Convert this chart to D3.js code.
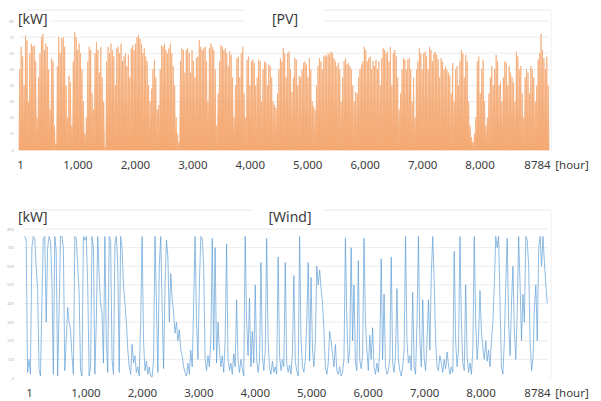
<!DOCTYPE html>
<html><head><meta charset="utf-8">
<script src="https://cdn.jsdelivr.net/npm/d3@7"></script>
<style>body{margin:0;background:#fff;} svg{display:block;}</style>
</head><body>
<svg id="c" width="601" height="401"></svg>
<script>
// ---------- DATA ----------
const xTickLabels = ["1","1,000","2,000","3,000","4,000","5,000","6,000","7,000","8,000","8784"];
const pvTicks = [0,10,20,30,40,50,60,70,80];
const windTicks = [0,100,200,300,400,500,600,700,800];
const hoursPerDay = 24;
const totalHours = 8784;

// PV: daily peak output [kW], day 1..366
const pvDailyPeak = [
50,64,58,40,71,68,30,60,66,64, 65,55,20,45,60,70,72,62,66,64,
50,25,57,55,15,4,52,70,60,69, 70,64,40,20,46,42,15,55,73,70,
62,66,60,50,30,10,20,55,64,62, 35,25,60,67,62,48,64,45,30,2,
55,64,60,66,62,58,40,63,64,60, 66,55,58,60,52,59,45,63,65,62,
66,70,71,69,66,60,63,58,55,40, 30,38,50,56,45,25,28,50,65,64,
66,62,60,63,66,60,52,40,20,10, 5,55,63,62,48,62,63,60,48,62,
55,45,57,58,68,64,62,63,64,55, 30,63,66,64,62,50,15,35,55,65,
64,62,63,60,52,61,59,45,20,40, 57,58,45,60,64,35,20,56,58,40,
55,56,54,40,45,56,55,30,50,55, 54,40,53,52,45,30,28,26,35,50,
57,55,63,60,45,60,61,50,36,45, 57,56,40,46,45,50,54,55,53,45,
57,50,30,27,25,40,52,57,55,50, 58,59,58,60,59,61,60,57,55,52,
54,50,30,45,55,57,53,54,52,50, 40,30,36,35,45,50,53,55,64,62,
55,57,58,50,55,52,56,50,55,40, 57,63,62,60,61,55,64,40,60,62,
58,45,25,35,50,57,56,50,56,57, 50,30,45,20,50,55,63,60,50,60,
61,58,50,64,62,55,60,61,59,56, 45,57,55,50,52,50,48,46,35,54,
30,50,52,40,55,62,60,45,59,55, 30,15,8,5,10,20,55,58,35,50,
56,30,15,20,35,45,52,40,50,59, 55,40,42,30,45,55,54,40,52,48,
45,42,30,61,58,50,52,35,20,45, 50,48,35,52,50,45,30,40,56,60,
72,62,57,50,58,40
];

// Wind: output sampled once a day [kW], day 1..366
const windDaily = [
760,740,30,100,20,700,760,750,600,480, 50,10,400,750,760,300,700,760,740,520,
20,760,680,10,350,760,760,700,40,200, 380,300,260,120,20,760,750,600,460,40,
10,760,740,760,500,10,60,760,700,20, 300,760,550,400,350,80,760,200,30,760,
740,100,20,720,760,600,30,760,700,500, 400,300,150,60,20,180,80,120,30,60,
10,300,760,200,40,90,20,60,10,5, 100,760,400,30,600,760,380,50,500,740,
650,300,560,420,350,240,300,200,260,150, 120,60,30,10,80,20,150,60,400,760,
300,100,500,760,750,600,100,40,120,60, 200,750,150,700,80,300,150,60,120,30,
200,720,100,40,80,20,130,60,420,90, 30,100,50,10,760,300,120,430,60,250,
80,500,100,30,90,620,120,40,150,750, 200,50,20,90,30,60,20,650,120,40,
100,60,620,80,30,70,20,140,550,90, 40,10,760,200,60,30,100,300,620,90,
540,150,60,200,600,500,580,480,400,250, 60,20,80,250,200,130,60,180,40,20,
60,10,30,100,750,300,80,150,700,200, 500,80,40,630,100,50,120,750,300,150,
40,230,100,270,60,20,80,30,150,640, 100,450,60,20,40,100,650,80,30,120,
480,100,40,10,60,150,760,200,80,120, 40,460,60,20,300,760,200,60,420,100,
40,200,420,150,560,760,520,200,60,40, 120,80,30,100,50,140,70,20,60,30,
680,200,60,150,760,300,80,40,500,120, 30,80,20,150,760,300,100,220,470,250,
160,100,200,90,150,60,200,300,500,760, 700,760,400,60,20,200,500,750,300,120,
400,600,250,100,350,760,500,200,450,300, 760,740,600,200,40,100,380,500,200,700,
760,600,760,620,500,400
];

// ---------- DRAW ----------
const svg = d3.select("#c");
const FONT = "'Noto Sans', sans-serif";
const TXT = "#3c3c3c";

function drawFrame(p) {
  const g = svg.append("g");
  g.selectAll("line.grid").data(p.ticks.slice(1)).join("line")
    .attr("x1", p.x.range()[0]).attr("x2", p.x.range()[1])
    .attr("y1", d => p.y(d)).attr("y2", d => p.y(d))
    .attr("stroke", "#ececec").attr("stroke-width", 1);
  g.append("line").attr("x1", p.frameLeft).attr("x2", p.frameRight)
    .attr("y1", p.frameTop).attr("y2", p.frameTop).attr("stroke", "#e8e8e8");
  g.append("line").attr("x1", p.frameRight).attr("x2", p.frameRight)
    .attr("y1", p.frameTop).attr("y2", p.y(0)).attr("stroke", "#eeeeee");
  g.selectAll("text.yt").data(p.ticks).join("text")
    .attr("x", 14).attr("y", d => p.y(d) + 1.5)
    .attr("text-anchor", "end").attr("font-size", 4).attr("font-family", FONT)
    .attr("fill", "#b8b8b8").text(d => d);
  return g;
}

function drawLabels(p) {
  svg.append("rect").attr("x", 14).attr("y", p.labelY - 11).attr("width", 36).attr("height", 16).attr("fill", "#fff");
  svg.append("rect").attr("x", p.titleBox[0]).attr("y", p.frameTop - 5).attr("width", p.titleBox[1] - p.titleBox[0]).attr("height", p.labelY - p.frameTop + 10).attr("fill", "#fff");
  svg.append("text").attr("x", p.kwX).attr("y", p.labelY).attr("font-family", FONT).attr("font-size", 14)
    .attr("fill", TXT).text("[kW]");
  svg.append("text").attr("x", p.titleX).attr("y", p.labelY).attr("text-anchor", "middle")
    .attr("font-family", FONT).attr("font-size", 14).attr("fill", TXT).text(p.title);
  const lab = d3.scalePoint().domain(xTickLabels).range(p.labelRange);
  const ax = svg.append("g").attr("transform", `translate(0,${p.axisY})`)
    .call(d3.axisBottom(lab).tickSize(0).tickPadding(0));
  ax.select(".domain").remove();
  ax.selectAll("text").attr("font-family", FONT).attr("font-size", 11.5).attr("fill", TXT);
  svg.append("text").attr("x", p.hourX).attr("y", p.axisY + 8.3).attr("text-anchor", "middle")
    .attr("font-family", FONT).attr("font-size", 11.5).attr("fill", TXT).text("[hour]");
}

// PV panel
const pv = {
  x: d3.scaleLinear().domain([0, totalHours]).range([19, 549]),
  y: d3.scaleLinear().domain([0, 80]).range([150, 21]),
  ticks: pvTicks, frameTop: 10, frameLeft: 25, frameRight: 551,
  labelY: 24, kwX: 18, titleX: 285, titleBox: [245, 325], title: "[PV]",
  labelRange: [20, 537], axisY: 161, hourX: 572
};
drawFrame(pv);
// each day drawn as a spike: zero at day start, peak at noon, zero at day end
const pvPts = [];
pvDailyPeak.forEach((v, d) => {
  pvPts.push([d * hoursPerDay, 0]);
  pvPts.push([d * hoursPerDay + hoursPerDay / 2, v]);
});
pvPts.push([totalHours, 0]);
svg.append("path").datum(pvPts)
  .attr("d", d3.area().x(d => pv.x(d[0])).y0(pv.y(0)).y1(d => pv.y(d[1])))
  .attr("fill", "#F4A870").attr("stroke", "#F4AA74").attr("stroke-width", 0.75)
  .attr("stroke-linejoin", "miter");
drawLabels(pv);

// Wind panel
const wd = {
  x: d3.scaleLinear().domain([0, totalHours]).range([24, 548]),
  y: d3.scaleLinear().domain([0, 800]).range([378, 229]),
  ticks: windTicks, frameTop: 210, frameLeft: 25, frameRight: 551,
  labelY: 222, kwX: 18, titleX: 290, titleBox: [252, 325], title: "[Wind]",
  labelRange: [29, 537], axisY: 389, hourX: 572
};
drawFrame(wd);
svg.append("path").datum(windDaily.map((v, d) => [d * hoursPerDay + hoursPerDay / 2, v]))
  .attr("d", d3.line().x(d => wd.x(d[0])).y(d => wd.y(d[1])))
  .attr("fill", "none").attr("stroke", "#5B9BD5").attr("stroke-width", 0.85)
  .attr("stroke-opacity", 0.8).attr("stroke-linejoin", "round");
drawLabels(wd);
</script>
</body></html>
